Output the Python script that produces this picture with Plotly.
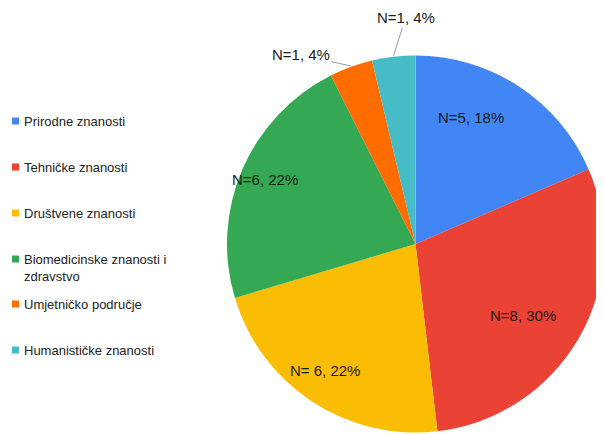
import math
import plotly.graph_objects as go

categories = ["Prirodne znanosti", "Tehničke znanosti", "Društvene znanosti",
              "Biomedicinske znanosti i<br>zdravstvo", "Umjetničko područje", "Humanističke znanosti"]
counts = [5, 8, 6, 6, 1, 1]
percent_labels = ["N=5, 18%", "N=8, 30%", "N= 6, 22%", "N=6, 22%", "N=1, 4%", "N=1, 4%"]
colors = ["#4285f4", "#ea4335", "#fbbc04", "#34a853", "#ff6d01", "#46bdc6"]

# browser body margin offset
OFF = 8
W, H = 604 - OFF, 435 - OFF

def fx(x):
    return (x - OFF) / W

def fy(y):
    return 1 - (y - OFF) / H

# pie domain in screen pixels (top-down)
px0, px1 = 227, 604
py0, py1 = 54, 434
cx = (px0 + px1) / 2
cy = (py0 + py1) / 2
R = min(px1 - px0, py1 - py0) / 2

fig = go.Figure(go.Pie(
    labels=categories, values=counts, sort=False, direction="clockwise", rotation=0,
    marker=dict(colors=colors, line=dict(color="white", width=0)),
    textinfo="none", hoverinfo="label+value+percent", showlegend=False,
    domain=dict(x=[fx(px0), min(1, fx(px1))], y=[fy(py1), fy(py0)]),
))

font = dict(family="Liberation Sans, Arial, sans-serif", size=13, color="#222222")
lab_font = dict(family="Liberation Sans, Arial, sans-serif", size=15, color="#1a1a1a")
total = sum(counts)
cum = 0
annotations = []
for i, v in enumerate(counts):
    mid = (cum + v / 2) / total * 2 * math.pi
    cum += v
    dx, dy = math.sin(mid), -math.cos(mid)
    if v / total > 0.1:
        r = 0.87 * R
        x = cx + dx * r
        y = cy + dy * r
        annotations.append(dict(x=fx(x), y=fy(y), xref="paper", yref="paper",
                                text=percent_labels[i], showarrow=False, font=lab_font))
    else:
        ex = cx + dx * (R + 1)
        ey = cy + dy * (R + 1)
        if i == 4:
            ax, ay = -50, -11
        else:
            ax, ay = 12, -38
        annotations.append(dict(x=fx(ex), y=fy(ey), xref="paper", yref="paper",
                                text=percent_labels[i], showarrow=True, arrowhead=0,
                                arrowwidth=1, arrowcolor="#999999", ax=ax, ay=ay,
                                font=lab_font))

# manual legend
legend_y = [121, 167, 213, 259, 304, 350]
shapes = []
for i, cat in enumerate(categories):
    y = legend_y[i]
    shapes.append(dict(type="rect", xref="paper", yref="paper",
                       x0=fx(12), x1=fx(19), y0=fy(y + 3.5), y1=fy(y - 3.5),
                       fillcolor=colors[i], line=dict(width=0)))
    yy = y if "<br>" not in cat else y + 9
    annotations.append(dict(x=fx(22), y=fy(yy), xref="paper", yref="paper",
                            xanchor="left", yanchor="middle", align="left",
                            text=cat, showarrow=False, font=font))

fig.update_layout(
    width=W, height=H, margin=dict(l=0, r=0, t=0, b=0),
    paper_bgcolor="white", plot_bgcolor="white",
    annotations=annotations, shapes=shapes,
)
fig.write_html("out.html")
